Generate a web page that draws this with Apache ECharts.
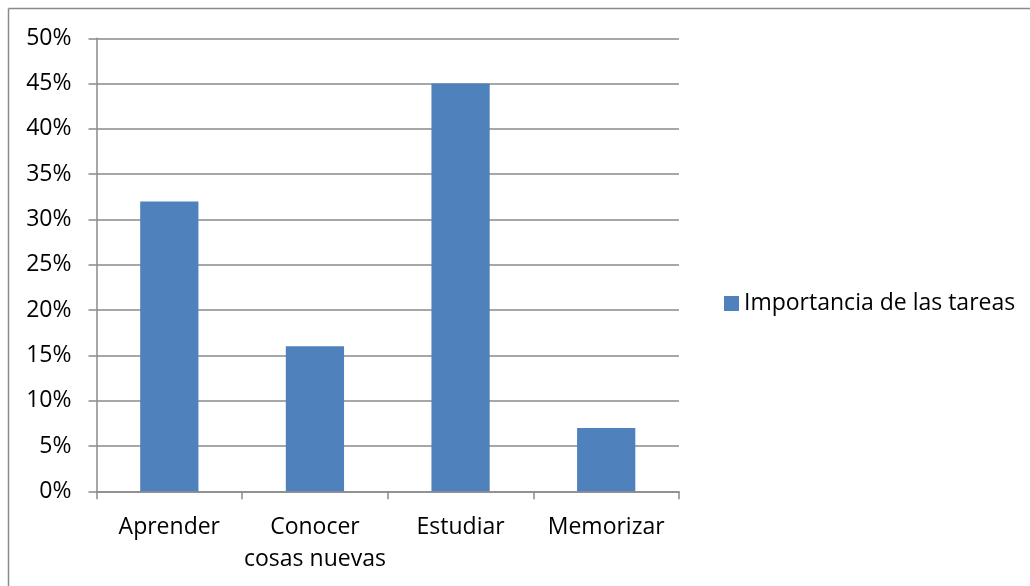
<!DOCTYPE html>
<html>
<head>
<meta charset="utf-8">
<script src="https://cdn.jsdelivr.net/npm/echarts@6/dist/echarts.min.js"></script>
<style>html,body{margin:0;padding:0;background:#fff}#c{width:1030px;height:586px}</style>
</head>
<body>
<div id="c"></div>
<script>
const categories = ['Aprender', 'Conocer\ncosas nuevas', 'Estudiar', 'Memorizar'];
const seriesName = 'Importancia de las tareas';
const values = [32, 16, 45, 7];
const yTicks = [0, 5, 10, 15, 20, 25, 30, 35, 40, 45, 50];

const chart = echarts.init(document.getElementById('c'), null, {renderer: 'canvas'});
const font = '"Open Sans", sans-serif';
const grey = '#8a8a8a';
chart.setOption({
  animation: false,
  backgroundColor: '#fff',
  graphic: [
    {type: 'line', shape: {x1: 8.5, y1: 8.5, x2: 1030, y2: 8.5}, style: {stroke: grey, lineWidth: 1.5}},
    {type: 'line', shape: {x1: 8.5, y1: 8.5, x2: 8.5, y2: 586}, style: {stroke: grey, lineWidth: 1.5}}
  ],
  legend: {
    data: [seriesName],
    left: 719, top: 287,
    orient: 'vertical',
    icon: 'rect', itemWidth: 15, itemHeight: 15, itemGap: 6,
    textStyle: {fontFamily: font, fontSize: 23, color: '#000'}
  },
  grid: {left: 96.5, right: 351, top: 38.3, bottom: 94.7, containLabel: false},
  xAxis: {
    type: 'category',
    data: categories,
    axisLine: {lineStyle: {color: grey, width: 1.5}},
    axisTick: {show: true, length: 8, lineStyle: {color: grey, width: 1.5}},
    axisLabel: {fontFamily: font, fontSize: 23, color: '#000', margin: 20, lineHeight: 32, interval: 0}
  },
  yAxis: {
    type: 'value',
    min: yTicks[0], max: yTicks[yTicks.length - 1], interval: 5,
    axisLine: {show: true, lineStyle: {color: grey, width: 1.5}},
    axisTick: {show: true, length: 8, lineStyle: {color: grey, width: 1.5}},
    splitLine: {lineStyle: {color: grey, width: 1.5}},
    axisLabel: {fontFamily: font, fontSize: 23, color: '#000', margin: 25, formatter: v => v + '%'}
  },
  series: [{
    name: seriesName,
    type: 'bar',
    data: values,
    barCategoryGap: '60%',
    itemStyle: {color: '#4f81bd'}
  }]
});
</script>
</body>
</html>
